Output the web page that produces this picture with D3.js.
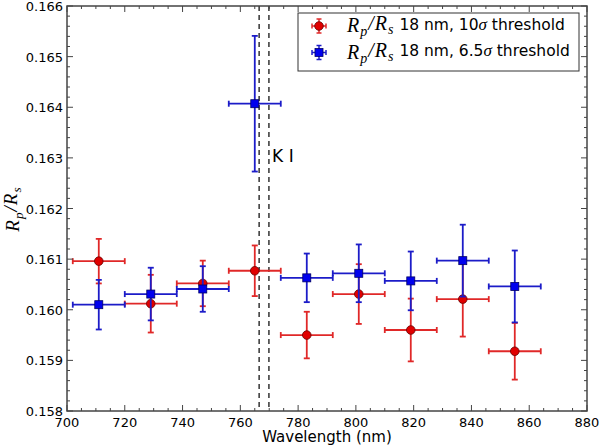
<!DOCTYPE html>
<html>
<head>
<meta charset="utf-8">
<script src="https://cdn.jsdelivr.net/npm/d3@7"></script>
<style>
  body { margin: 0; background: #fff; }
  text { font-family: "DejaVu Sans", sans-serif; fill: #000; }
  .math { font-family: "Liberation Serif", "DejaVu Serif", serif; font-style: italic; }
</style>
</head>
<body>
<svg id="chart" width="600" height="447"></svg>
<script>
// bin centres (nm) and half widths, same for both series
var wavelengths = [711, 729, 747, 765, 783, 801, 819, 837, 855];
var binHalf = [9, 9, 9, 9, 9, 9, 9, 9, 9];

// 10 sigma threshold (red circles)
var red_vals = [0.16096, 0.16012, 0.16052, 0.16077, 0.15950, 0.16031, 0.15960, 0.16021, 0.15918];
var red_errs = [0.00044, 0.00057, 0.00045, 0.00050, 0.00046, 0.00059, 0.00062, 0.00074, 0.00056];

// 6.5 sigma threshold (blue squares)
var blue_vals = [0.16010, 0.16031, 0.16041, 0.16407, 0.16063, 0.16072, 0.16057, 0.16097, 0.16046];
var blue_errs = [0.00049, 0.00052, 0.00045, 0.00134, 0.00048, 0.00057, 0.00058, 0.00071, 0.00071];

// K I doublet
var kLines = [766.5, 769.9];

var xTicks = [700, 720, 740, 760, 780, 800, 820, 840, 860, 880];
var yTicks = [0.158, 0.159, 0.160, 0.161, 0.162, 0.163, 0.164, 0.165, 0.166];

// plot box (note: "top" is taken by window.top)
var pLeft = 67, pRight = 587, pTop = 6, pBottom = 411;

var svg = d3.select("#chart");

var x = d3.scaleLinear().domain([700, 880]).range([pLeft, pRight]);
var y = d3.scaleLinear().domain([0.158, 0.166]).range([pBottom, pTop]);

// K I lines
svg.selectAll("line.kline")
    .data(kLines)
    .enter()
    .append("line")
    .attr("class", "kline")
    .attr("x1", function (d) { return x(d); })
    .attr("x2", function (d) { return x(d); })
    .attr("y1", pTop)
    .attr("y2", pBottom)
    .attr("stroke", "#000")
    .attr("stroke-width", 1.2)
    .attr("stroke-dasharray", "5,4");

svg.append("text")
    .attr("x", x(771))
    .attr("y", y(0.16291))
    .attr("font-size", 17)
    .text("K I");

// error bar series
function drawSeries(vals, errs, colour, lineColour, shape) {
    var rows = wavelengths.map(function (w, i) {
        return { w: w, h: binHalf[i], v: vals[i], e: errs[i] };
    });
    var g = svg.append("g");
    var pts = g.selectAll("g").data(rows).enter().append("g");

    // vertical bar + caps
    pts.append("line")
        .attr("x1", function (d) { return x(d.w); })
        .attr("x2", function (d) { return x(d.w); })
        .attr("y1", function (d) { return y(d.v - d.e); })
        .attr("y2", function (d) { return y(d.v + d.e); });
    [-1, 1].forEach(function (s) {
        pts.append("line")
            .attr("x1", function (d) { return x(d.w) - 3; })
            .attr("x2", function (d) { return x(d.w) + 3; })
            .attr("y1", function (d) { return y(d.v + s * d.e); })
            .attr("y2", function (d) { return y(d.v + s * d.e); });
        pts.append("line")
            .attr("x1", function (d) { return x(d.w + s * d.h); })
            .attr("x2", function (d) { return x(d.w + s * d.h); })
            .attr("y1", function (d) { return y(d.v) - 3; })
            .attr("y2", function (d) { return y(d.v) + 3; });
    });
    // horizontal bar
    pts.append("line")
        .attr("x1", function (d) { return x(d.w - d.h); })
        .attr("x2", function (d) { return x(d.w + d.h); })
        .attr("y1", function (d) { return y(d.v); })
        .attr("y2", function (d) { return y(d.v); });

    pts.selectAll("line")
        .attr("stroke", lineColour)
        .attr("stroke-width", 1.8);

    if (shape == "circle") {
        pts.append("circle")
            .attr("cx", function (d) { return x(d.w); })
            .attr("cy", function (d) { return y(d.v); })
            .attr("r", 4.3)
            .attr("fill", colour)
            .attr("stroke", "#600")
            .attr("stroke-width", 0.8);
    } else {
        pts.append("rect")
            .attr("x", function (d) { return x(d.w) - 4; })
            .attr("y", function (d) { return y(d.v) - 4; })
            .attr("width", 8)
            .attr("height", 8)
            .attr("fill", colour)
            .attr("stroke", "#000066")
            .attr("stroke-width", 0.8);
    }
}

drawSeries(red_vals, red_errs, "#e00000", "#e02828", "circle");
drawSeries(blue_vals, blue_errs, "#0000ee", "#1c1cc8", "square");

// frame
svg.append("rect")
    .attr("x", pLeft).attr("y", pTop)
    .attr("width", pRight - pLeft).attr("height", pBottom - pTop)
    .attr("fill", "none")
    .attr("stroke", "#444")
    .attr("stroke-width", 1.5);

// inward ticks on all four sides
var xMinor = d3.range(700, 881, 5);
var yMinor = d3.range(0, 41).map(function (i) { return 0.158 + i * 0.0002; });
var tickG = svg.append("g").attr("stroke", "#444").attr("stroke-width", 1);

xMinor.forEach(function (t) {
    var len = xTicks.indexOf(t) >= 0 ? 6 : 3;
    tickG.append("line").attr("x1", x(t)).attr("x2", x(t)).attr("y1", pBottom).attr("y2", pBottom - len);
    tickG.append("line").attr("x1", x(t)).attr("x2", x(t)).attr("y1", pTop).attr("y2", pTop + len);
});
yMinor.forEach(function (t, i) {
    var len = i % 5 == 0 ? 6 : 3;
    tickG.append("line").attr("y1", y(t)).attr("y2", y(t)).attr("x1", pLeft).attr("x2", pLeft + len);
    tickG.append("line").attr("y1", y(t)).attr("y2", y(t)).attr("x1", pRight).attr("x2", pRight - len);
});

// tick labels
svg.selectAll("text.xtick")
    .data(xTicks)
    .enter()
    .append("text")
    .attr("class", "xtick")
    .attr("x", function (d) { return x(d); })
    .attr("y", pBottom + 15.5)
    .attr("text-anchor", "middle")
    .attr("font-size", 13)
    .text(function (d) { return d; });

svg.selectAll("text.ytick")
    .data(yTicks)
    .enter()
    .append("text")
    .attr("class", "ytick")
    .attr("x", pLeft - 4)
    .attr("y", function (d) { return y(d) + 5; })
    .attr("text-anchor", "end")
    .attr("font-size", 13)
    .text(function (d) { return d3.format(".3f")(d); });

// axis labels
svg.append("text")
    .attr("x", (pLeft + pRight) / 2)
    .attr("y", 442)
    .attr("text-anchor", "middle")
    .attr("font-size", 15)
    .text("Wavelength (nm)");

var yl = svg.append("text")
    .attr("class", "math")
    .attr("transform", "translate(19,209) rotate(-90)")
    .attr("text-anchor", "middle")
    .attr("font-size", 19)
    .attr("letter-spacing", 1);
yl.append("tspan").text("R");
yl.append("tspan").attr("font-size", "0.7em").attr("dy", "0.3em").text("p");
yl.append("tspan").attr("dy", "-0.3em").text("/R");
yl.append("tspan").attr("font-size", "0.7em").attr("dy", "0.3em").text("s");

// legend
var legend = svg.append("g");
legend.append("rect")
    .attr("x", 298).attr("y", 13)
    .attr("width", 281).attr("height", 58)
    .attr("fill", "#fff")
    .attr("stroke", "#333")
    .attr("stroke-width", 1);

var legendItems = [
    { colour: "#e00000", line: "#e02828", shape: "circle", label: " 18 nm, 10", tail: " threshold" },
    { colour: "#0000ee", line: "#1c1cc8", shape: "square", label: " 18 nm, 6.5", tail: " threshold" }
];

legendItems.forEach(function (it, i) {
    var cy = 26 + i * 26.5, cx = 319;
    var lg = legend.append("g").attr("stroke", it.line).attr("stroke-width", 1.5);
    lg.append("line").attr("x1", cx - 7).attr("x2", cx + 7).attr("y1", cy).attr("y2", cy);
    lg.append("line").attr("x1", cx).attr("x2", cx).attr("y1", cy - 7).attr("y2", cy + 7);
    lg.append("line").attr("x1", cx - 2.5).attr("x2", cx + 2.5).attr("y1", cy - 7).attr("y2", cy - 7);
    lg.append("line").attr("x1", cx - 2.5).attr("x2", cx + 2.5).attr("y1", cy + 7).attr("y2", cy + 7);
    lg.append("line").attr("x1", cx - 7).attr("x2", cx - 7).attr("y1", cy - 2.5).attr("y2", cy + 2.5);
    lg.append("line").attr("x1", cx + 7).attr("x2", cx + 7).attr("y1", cy - 2.5).attr("y2", cy + 2.5);
    if (it.shape == "circle") {
        legend.append("circle").attr("cx", cx).attr("cy", cy).attr("r", 4.3)
            .attr("fill", it.colour).attr("stroke", "#600").attr("stroke-width", 0.8);
    } else {
        legend.append("rect").attr("x", cx - 4).attr("y", cy - 4).attr("width", 8).attr("height", 8)
            .attr("fill", it.colour).attr("stroke", "#006").attr("stroke-width", 0.8);
    }
    var t = legend.append("text")
        .attr("x", 347)
        .attr("y", cy + 6)
        .attr("font-size", 15.5);
    var m = t.append("tspan").attr("class", "math").attr("font-size", 20).attr("letter-spacing", 1);
    m.append("tspan").text("R");
    m.append("tspan").attr("font-size", "0.7em").attr("dy", "0.3em").text("p");
    m.append("tspan").attr("dy", "-0.3em").text("/R");
    m.append("tspan").attr("font-size", "0.7em").attr("dy", "0.3em").text("s");
    t.append("tspan").attr("dy", "-0.3em").text(" " + it.label);
    t.append("tspan").attr("class", "math").attr("font-size", 17).text("σ");
    t.append("tspan").text(it.tail);
});
</script>
</body>
</html>
